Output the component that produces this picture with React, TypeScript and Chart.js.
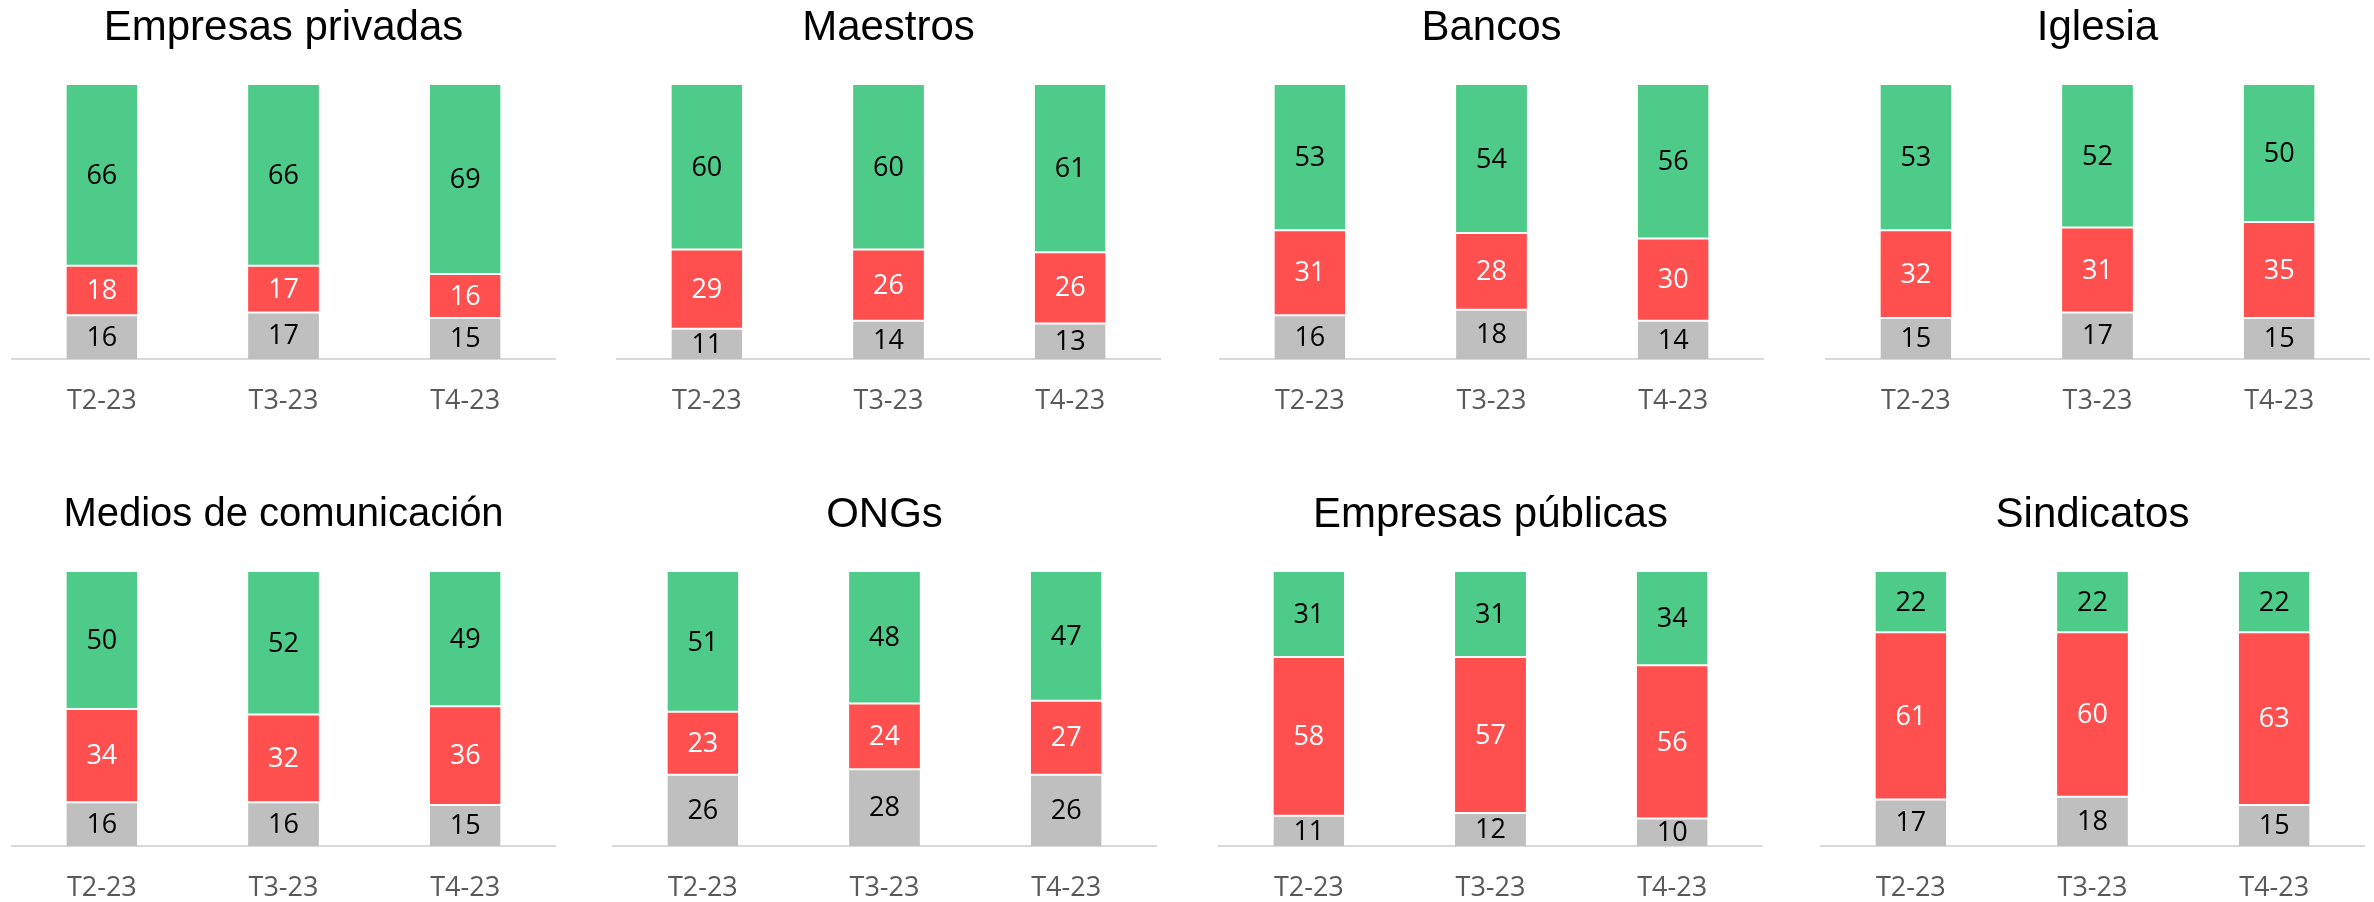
import React, { useEffect, useRef } from 'react';
import { Chart, registerables } from 'chart.js';

Chart.register(...registerables);

const categories = ['T2-23', 'T3-23', 'T4-23'];
const titles = [
  'Empresas privadas',
  'Maestros',
  'Bancos',
  'Iglesia',
  'Medios de comunicación',
  'ONGs',
  'Empresas públicas',
  'Sindicatos',
];
// bottom (gray) segment
const neutral = [
  [16, 17, 15],
  [11, 14, 13],
  [16, 18, 14],
  [15, 17, 15],
  [16, 16, 15],
  [26, 28, 26],
  [11, 12, 10],
  [17, 18, 15],
];
// middle (red) segment
const distrust = [
  [18, 17, 16],
  [29, 26, 26],
  [31, 28, 30],
  [32, 31, 35],
  [34, 32, 36],
  [23, 24, 27],
  [58, 57, 56],
  [61, 60, 63],
];
// top (green) segment
const trust = [
  [66, 66, 69],
  [60, 60, 61],
  [53, 54, 56],
  [53, 52, 50],
  [50, 52, 49],
  [51, 48, 47],
  [31, 31, 34],
  [22, 22, 22],
];

const GRAY = '#BFBFBF';
const RED = '#FF4F4F';
const GREEN = '#4ECB88';
const labelColors = ['#000000', '#FFFFFF', '#000000'];

const panelLeft = [11, 616, 1219, 1825, 11, 612, 1218, 1820];
const panelTop = [0, 0, 0, 0, 487, 487, 487, 487];
const titleSizes = [42, 42, 42, 42, 40, 42, 42, 42];
const PANEL_W = 545;
const PANEL_H = 444;

const segLabelPlugin = {
  id: 'segLabels',
  afterDatasetsDraw(chart: any) {
    const ctx = chart.ctx;
    ctx.save();
    ctx.font = '27px "Open Sans"';
    ctx.textAlign = 'center';
    ctx.textBaseline = 'middle';
    chart.data.datasets.forEach((ds: any, i: number) => {
      const meta = chart.getDatasetMeta(i);
      meta.data.forEach((el: any, j: number) => {
        const { x, y, base } = el.getProps(['x', 'y', 'base'], true);
        ctx.fillStyle = labelColors[i];
        ctx.fillText(String(ds.data[j]), x, (y + base) / 2 + 1);
      });
    });
    ctx.restore();
  },
};

function Panel({ idx }: { idx: number }) {
  const ref = useRef<HTMLCanvasElement>(null);
  useEffect(() => {
    if (!ref.current) return;
    const size = titleSizes[idx];
    const titleBox = size * 1.2;
    const padTop = 28 - titleBox / 2;
    const chart = new Chart(ref.current, {
      type: 'bar',
      data: {
        labels: categories,
        datasets: [
          {
            data: neutral[idx],
            backgroundColor: GRAY,
            borderColor: '#FFFFFF',
            borderWidth: { top: 1, bottom: 0, left: 0, right: 0 },
            borderSkipped: false,
          },
          {
            data: distrust[idx],
            backgroundColor: RED,
            borderColor: '#FFFFFF',
            borderWidth: { top: 1, bottom: 1, left: 0, right: 0 },
            borderSkipped: false,
          },
          {
            data: trust[idx],
            backgroundColor: GREEN,
            borderColor: '#FFFFFF',
            borderWidth: { top: 0, bottom: 1, left: 0, right: 0 },
            borderSkipped: false,
          },
        ],
      },
      options: {
        responsive: false,
        animation: false,
        datasets: { bar: { barPercentage: 0.39, categoryPercentage: 1 } },
        layout: { padding: { top: 0, bottom: 0.6, left: 0, right: 0 } },
        plugins: {
          legend: { display: false },
          tooltip: { enabled: false },
          title: {
            display: true,
            text: titles[idx],
            color: '#000000',
            font: { family: '"Liberation Sans", Arial, sans-serif', size: size, weight: 'normal' },
            padding: { top: padTop, bottom: 85 - padTop - titleBox },
          },
        },
        scales: {
          x: {
            stacked: true,
            grid: { display: false, drawTicks: false },
            border: { display: true, color: '#D9D9D9', width: 2 },
            ticks: {
              color: '#595959',
              font: { family: '"Open Sans"', size: 27 },
              padding: 26,
            },
          },
          y: { stacked: true, display: false, min: 0, max: 100 },
        },
      },
      plugins: [segLabelPlugin],
    } as any);
    return () => chart.destroy();
  }, [idx]);
  return (
    <div
      style={{
        position: 'absolute',
        left: panelLeft[idx],
        top: panelTop[idx],
        width: PANEL_W,
        height: PANEL_H,
      }}
    >
      <canvas ref={ref} width={PANEL_W} height={PANEL_H} style={{ width: PANEL_W, height: PANEL_H }} />
    </div>
  );
}

export default function App() {
  return (
    <div
      style={{
        position: 'absolute',
        left: 0,
        top: 0,
        width: 2374,
        height: 902,
        background: '#FFFFFF',
        overflow: 'hidden',
      }}
    >
      {titles.map((_, i) => (
        <Panel key={i} idx={i} />
      ))}
    </div>
  );
}
